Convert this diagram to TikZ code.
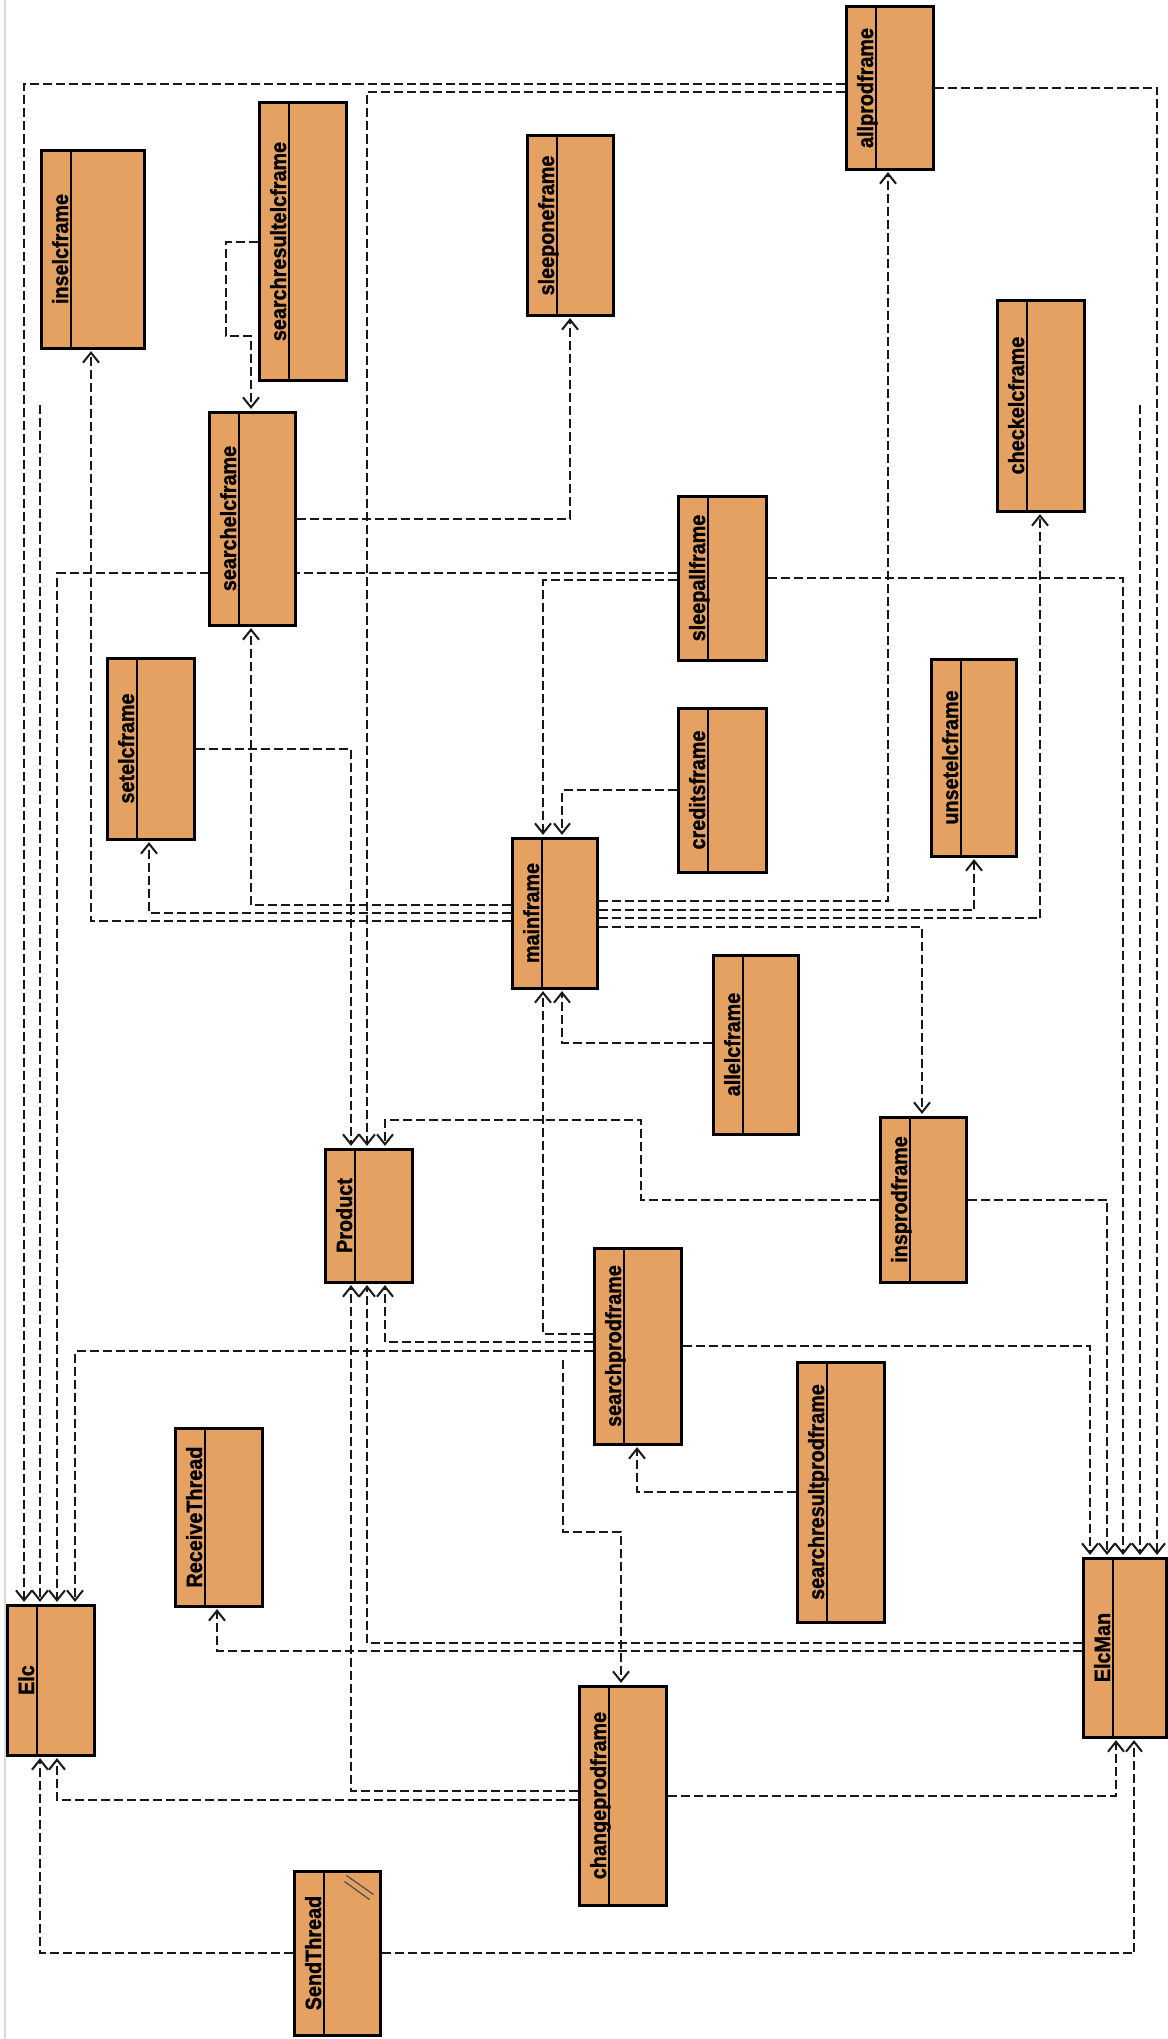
\documentclass[tikz,border=0pt]{standalone}
\usepackage{fontspec}
\newfontfamily\clsfont[FakeStretch=0.9, BoldFeatures={FakeBold=1.2}]{Liberation Sans}
\usepackage{tikz}
\usetikzlibrary{arrows.meta,backgrounds}
\definecolor{clsorange}{RGB}{229,161,98}

\begin{document}
\begin{tikzpicture}[x=0.5pt, y=-0.5pt,
    clsname/.style={font=\clsfont\bfseries\fontsize{11}{13}\selectfont, inner sep=0pt},
    cls/.style={rectangle, draw=black, line width=1.5pt, fill=clsorange, inner sep=0pt,
      path picture={
        \draw[line width=1pt] ([xshift=15pt]path picture bounding box.north west) -- ([xshift=15pt]path picture bounding box.south west);
        \node[clsname, rotate=90, anchor=base] (#1-name) at ([xshift=13.5pt]path picture bounding box.west) {#1};
      }},
    sz/.style 2 args={minimum width=#1*0.5pt, minimum height=#2*0.5pt},
    dep/.style={draw=black!90, line width=1pt, dash pattern=on 4.5pt off 2pt,
      -{Straight Barb[length=5pt, width=8pt]}, shorten >=0.8pt}]

    \useasboundingbox (0,0) rectangle (1167,2039);

    % Classes - top part
    \node[cls=inselcframe, sz={103}{198}] (inselcframe) at (92.5,249) {};
    \node[cls=searchresultelcframe, sz={87}{277}] (searchresultelcframe) at (302.5,241.5) {};
    \node[cls=sleeponeframe, sz={86}{179}] (sleeponeframe) at (570,225.5) {};
    \node[cls=allprodframe, sz={87}{162}] (allprodframe) at (889.5,88) {};
    \node[cls=checkelcframe, sz={87}{211}] (checkelcframe) at (1040.5,405.5) {};
    \node[cls=searchelcframe, sz={86}{213}] (searchelcframe) at (252,518.5) {};
    \node[cls=sleepallframe, sz={88}{164}] (sleepallframe) at (722,578) {};
    % Classes - middle part
    \node[cls=setelcframe, sz={87}{181}] (setelcframe) at (150.5,748.5) {};
    \node[cls=creditsframe, sz={88}{164}] (creditsframe) at (722,790) {};
    \node[cls=unsetelcframe, sz={85}{197}] (unsetelcframe) at (973.5,757.5) {};
    \node[cls=mainframe, sz={85}{150}] (mainframe) at (554.5,913) {};
    \node[cls=allelcframe, sz={85}{179}] (allelcframe) at (755.5,1044.5) {};
    \node[cls=insprodframe, sz={86}{165}] (insprodframe) at (923,1199.5) {};
    \node[cls=Product, sz={87}{133}] (Product) at (368.5,1215.5) {};
    \node[cls=searchprodframe, sz={87}{196}] (searchprodframe) at (637.5,1346) {};
    % Classes - bottom part
    \node[cls=searchresultprodframe, sz={87}{260}] (searchresultprodframe) at (840.5,1492) {};
    \node[cls=ReceiveThread, sz={87}{178}] (ReceiveThread) at (218.5,1517) {};
    \node[cls=Elc, sz={87}{150}] (Elc) at (50.5,1680) {};
    \node[cls=ElcMan, sz={83}{179}] (ElcMan) at (1124.5,1647.5) {};
    \node[cls=changeprodframe, sz={87}{219}] (changeprodframe) at (622.5,1795.5) {};
    \node[cls=SendThread, sz={86}{164}] (SendThread) at (337,1953) {};
    \draw[black!70, line width=0.6pt] ([shift={(-35,6)}]SendThread.north east) -- ([shift={(-8,25)}]SendThread.north east);
    \draw[black!70, line width=0.6pt] ([shift={(-37,12)}]SendThread.north east) -- ([shift={(-12,30)}]SendThread.north east);

    % free line ends
    \coordinate (ck-free) at (1140,405);
    \coordinate (in-free) at (40,405);
    \coordinate (sp-free) at (563,1360);

    \begin{scope}[on background layer]
    \fill[white] (0,0) rectangle (1167,2039);
    \draw[black!15, line width=1pt] (5,0) -- (5,2039);

    % Dependencies
    \draw[dep] (searchresultelcframe.west) -| (226,336) -| (searchelcframe.north -| 251,0);
    \draw[dep] (searchelcframe.east) -| (sleeponeframe.south);
    \draw[dep] (allprodframe.west |- 0,84) -| (Elc.north -| 24,0);
    \draw[dep] (allprodframe.west |- 0,92) -| (Product.north -| 367,0);
    \draw[dep] (allprodframe.east) -| (ElcMan.north -| 1157,0);
    \draw[dep] (ck-free) -- (ElcMan.north -| ck-free);
    \draw[dep] (in-free) -- (Elc.north -| in-free);
    \draw[dep] (sleepallframe.west |- 0,573) -| (Elc.north -| 57,0);
    \draw[dep] (sleepallframe.west |- 0,580) -| (mainframe.north -| 543,0);
    \draw[dep] (sleepallframe.east) -| (ElcMan.north -| 1123,0);
    \draw[dep] (mainframe.west |- 0,905) -| (searchelcframe.south -| 251,0);
    \draw[dep] (mainframe.west |- 0,913) -| (setelcframe.south -| 149,0);
    \draw[dep] (mainframe.west |- 0,921) -| (inselcframe.south -| 91,0);
    \draw[dep] (creditsframe.west) -| (mainframe.north -| 562,0);
    \draw[dep] (allelcframe.west |- 0,1043) -| (mainframe.south -| 562,0);
    \draw[dep] (mainframe.east |- 0,901) -| (allprodframe.south -| 888,0);
    \draw[dep] (mainframe.east |- 0,910) -| (unsetelcframe.south -| 974,0);
    \draw[dep] (mainframe.east |- 0,918) -| (checkelcframe.south -| 1040,0);
    \draw[dep] (mainframe.east |- 0,927) -| (insprodframe.north -| 922,0);
    \draw[dep] (setelcframe.east |- 0,749) -| (Product.north -| 351,0);
    \draw[dep] (insprodframe.west) -| (641,1120) -| (Product.north -| 385,0);
    \draw[dep] (insprodframe.east) -| (ElcMan.north -| 1107,0);
    \draw[dep] (searchprodframe.west |- 0,1334) -| (mainframe.south -| 543,0);
    \draw[dep] (searchprodframe.west |- 0,1342) -| (Product.south -| 385,0);
    \draw[dep] (searchprodframe.west |- 0,1351) -| (Elc.north -| 75,0);
    \draw[dep] (sp-free) |- (621,1532) -- (changeprodframe.north -| 621,0);
    \draw[dep] (searchprodframe.east) -| (ElcMan.north -| 1090,0);
    \draw[dep] (searchresultprodframe.west) -| (searchprodframe.south -| 637,0);
    \draw[dep] (ElcMan.west |- 0,1643) -| (Product.south -| 367,0);
    \draw[dep] (ElcMan.west |- 0,1651) -| (ReceiveThread.south -| 217,0);
    \draw[dep] (changeprodframe.west |- 0,1791) -| (Product.south -| 351,0);
    \draw[dep] (changeprodframe.west |- 0,1800) -| (Elc.south -| 57,0);
    \draw[dep] (changeprodframe.east) -| (ElcMan.south -| 1116,0);
    \draw[dep] (SendThread.west) -| (Elc.south -| 40,0);
    \draw[dep] (SendThread.east) -| (ElcMan.south -| 1134,0);
    \end{scope}
\end{tikzpicture}
\end{document}
